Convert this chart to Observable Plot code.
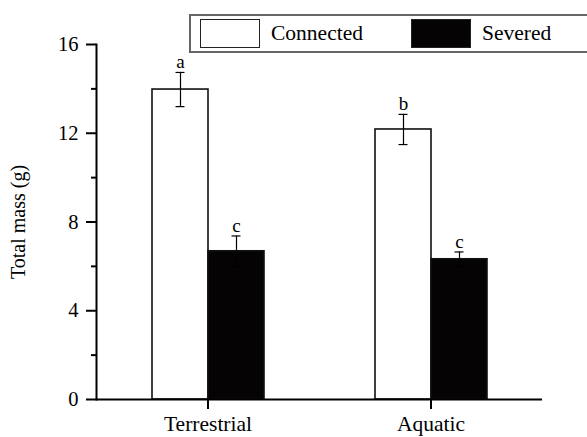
<!DOCTYPE html>
<html>
<head>
<meta charset="utf-8">
<script src="https://cdn.jsdelivr.net/npm/d3@7"></script>
<script src="https://cdn.jsdelivr.net/npm/@observablehq/plot@0.6"></script>
<style>
  html, body { margin: 0; padding: 0; background: #fff; }
  #wrap { position: relative; width: 587px; height: 437px; overflow: hidden; font-family: 'Liberation Serif', 'Times New Roman', serif; }
  #legend { position: absolute; left: 189px; top: 14px; width: 420px; height: 35px; border: 2px solid #666; border-right: none; background: #fff; box-sizing: content-box; }
  .item { position: absolute; top: 3px; display: flex; align-items: center; font-size: 21.5px; color: #000; }
  .sw { width: 58px; height: 27px; border: 1.5px solid #222; margin-right: 11px; }
  svg text { font-family: 'Liberation Serif', 'Times New Roman', serif; }
</style>
</head>
<body>
<div id="wrap"><div id="chart"></div><div id="legend"></div></div>
<script>
const categories = ["Terrestrial", "Aquatic"];
const groups = ["Connected", "Severed"];
const groupColors = ["#ffffff", "#050303"];
const connectedMeans = [13.97, 12.17];
const connectedErrors = [0.77, 0.68];
const severedMeans = [6.68, 6.32];
const severedErrors = [0.69, 0.33];
const connectedLetters = ["a", "b"];
const severedLetters = ["c", "c"];
const majorTicks = [0, 4, 8, 12, 16];
const minorTicks = [2, 6, 10, 14];

const data = [];
categories.forEach((c, i) => {
  data.push({category: c, group: groups[0], value: connectedMeans[i], err: connectedErrors[i], letter: connectedLetters[i]});
  data.push({category: c, group: groups[1], value: severedMeans[i], err: severedErrors[i], letter: severedLetters[i]});
});

const font = "'Liberation Serif', 'Times New Roman', serif";

const chart = Plot.plot({
  width: 587,
  height: 437,
  marginLeft: 95,
  marginRight: 45,
  marginTop: 44,
  marginBottom: 38,
  style: {fontFamily: font, background: "#fff", color: "#000", overflow: "visible"},
  fx: {domain: categories, padding: 0},
  x: {domain: groups, paddingInner: 0, paddingOuter: 0.983, axis: null},
  y: {domain: [0, 16]},
  color: {domain: groups, range: groupColors},
  marks: [
    Plot.barY(data, {fx: "category", x: "group", y: "value", fill: "group", stroke: "#111", strokeWidth: 1.6}),
    Plot.ruleX(data, {fx: "category", x: "group", y1: d => d.value - d.err, y2: d => d.value + d.err, stroke: "#000", strokeWidth: 1.2}),
    Plot.tickY(data, {fx: "category", x: "group", y: d => d.value + d.err, stroke: "#000", strokeWidth: 1.2, insetLeft: 23.5, insetRight: 23.5}),
    Plot.tickY(data, {fx: "category", x: "group", y: d => d.value - d.err, stroke: "#000", strokeWidth: 1.2, insetLeft: 23.5, insetRight: 23.5}),
    Plot.text(data, {fx: "category", x: "group", y: d => d.value + d.err, text: "letter", dy: -4, lineAnchor: "bottom", fontSize: 19, fontFamily: font, fill: "#000"}),
    Plot.ruleY([0], {strokeWidth: 2, stroke: "#000"}),
    Plot.frame({anchor: "left", strokeWidth: 2, stroke: "#000", facetAnchor: "left"}),
    Plot.axisY({ticks: majorTicks, tickSize: 10, tickPadding: 8, strokeWidth: 2, fontSize: 20.5, fontFamily: font, label: null, tickFormat: d => String(d)}),
    Plot.axisY({ticks: majorTicks, tickSize: 0, text: null, fontSize: 20, fontFamily: font, label: "Total mass (g)", labelAnchor: "center", labelArrow: "none", labelOffset: 86}),
    Plot.axisY({ticks: minorTicks, tickSize: 5, strokeWidth: 2, text: null, label: null}),
    Plot.axisFx({anchor: "bottom", tickSize: 10, tickPadding: 6, strokeWidth: 2, fontSize: 21.5, fontFamily: font, label: null})
  ]
});
document.getElementById("chart").appendChild(chart);

const legend = document.getElementById("legend");
const lefts = [9, 220];
groups.forEach((g, i) => {
  const item = document.createElement("div");
  item.className = "item";
  item.style.left = lefts[i] + "px";
  const sw = document.createElement("div");
  sw.className = "sw";
  sw.style.background = groupColors[i];
  const t = document.createElement("span");
  t.textContent = g;
  item.appendChild(sw);
  item.appendChild(t);
  legend.appendChild(item);
});
</script>
</body>
</html>
